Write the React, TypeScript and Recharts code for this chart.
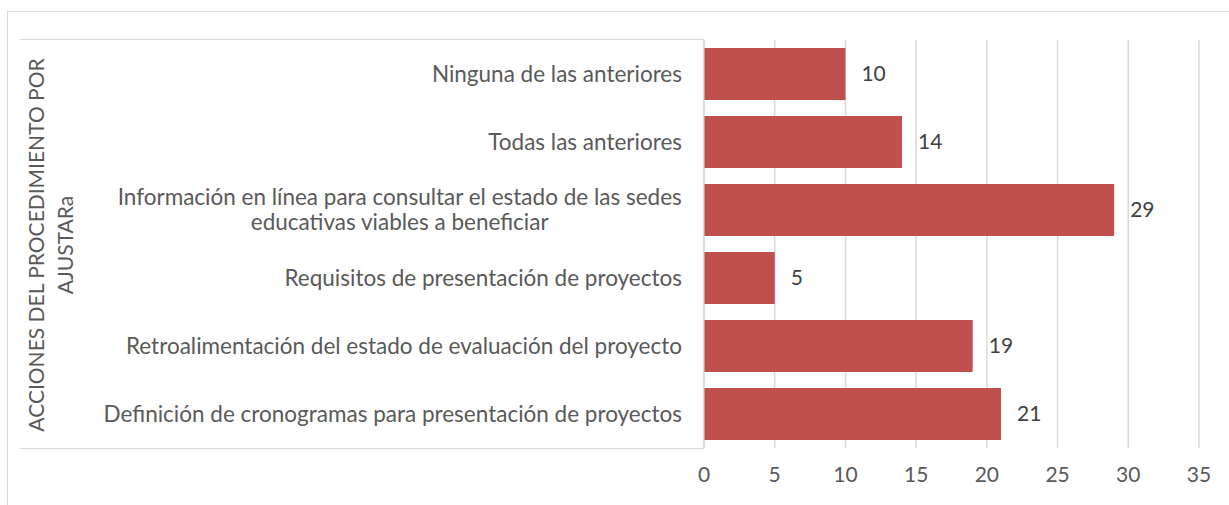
import React from 'react';
import { BarChart, Bar, XAxis, YAxis, CartesianGrid, LabelList } from 'recharts';

const categories = [
  'Ninguna de las anteriores',
  'Todas las anteriores',
  'Información en línea para consultar el estado de las sedes educativas viables a beneficiar',
  'Requisitos de presentación de proyectos',
  'Retroalimentación del estado de evaluación del proyecto',
  'Definición de cronogramas para presentación de proyectos',
];
const values = [10, 14, 29, 5, 19, 21];
const xTicks = [0, 5, 10, 15, 20, 25, 30, 35];
const axisTitle = ['ACCIONES DEL PROCEDIMIENTO POR', 'AJUSTARa'];

const FONT = 'Lato, "Open Sans", sans-serif';
const TEXT = '#595959';
const GRID = '#d9d9d9';
const BAR = '#C0504D';

const data = categories.map((name, i) => ({ name, value: values[i] }));

let ctx: CanvasRenderingContext2D | null = null;
const measure = (s: string, size: number) => {
  if (!ctx) ctx = document.createElement('canvas').getContext('2d');
  if (!ctx) return s.length * size * 0.46;
  ctx.font = `${size}px Lato`;
  return ctx.measureText(s).width;
};

// parte la etiqueta en varias líneas si no cabe
const wrap = (s: string, maxW: number, size: number) => {
  const words = s.split(' ');
  const lines: string[] = [];
  let cur = '';
  words.forEach(w => {
    const next = cur ? cur + ' ' + w : w;
    if (measure(next, size) > maxW && cur) {
      lines.push(cur);
      cur = w;
    } else cur = next;
  });
  if (cur) lines.push(cur);
  return lines;
};

const CategoryTick = (props: any) => {
  const { x, y, payload } = props;
  const size = 22.5;
  const lines = wrap(payload.value, 610, size);
  const widest = Math.max(...lines.map(l => measure(l, size)));
  const cx = x - 14 - widest / 2;
  const lh = 25;
  const y0 = y - ((lines.length - 1) * lh) / 2;
  return (
    <g>
      {lines.map((l, i) => (
        <text key={i} x={cx} y={y0 + i * lh} dy="0.35em" textAnchor="middle"
          fill={TEXT} fontSize={size} fontFamily={FONT}>{l}</text>
      ))}
    </g>
  );
};

const AxisTitle = () => (
  <g transform="translate(37, 245) rotate(-90)">
    {axisTitle.map((t, i) => (
      <text key={i} x={0} y={i * 29} dy="0.35em" textAnchor="middle"
        fill={TEXT} fontSize={21} fontFamily={FONT}>{t}</text>
    ))}
  </g>
);

export default function App() {
  return (
    <div style={{ position: 'absolute', left: 0, top: 0, width: 1229, height: 505, background: '#fff', overflow: 'hidden' }}>
      <div style={{ position: 'absolute', left: 7, top: 11, width: 1240, height: 520, border: `1px solid ${GRID}` }} />
      <div style={{ position: 'absolute', left: 20, top: 39, width: 684, height: 408, borderTop: `1px solid ${GRID}`, borderBottom: `1px solid ${GRID}` }} />
      <div style={{ position: 'absolute', left: 0, top: 0 }}>
        <BarChart width={1229} height={505} data={data} layout="vertical"
          margin={{ top: 40, right: 30, bottom: 27, left: 20 }} barSize={52}>
          <CartesianGrid horizontal={false} stroke={GRID} strokeWidth={1.5} />
          <XAxis type="number" domain={[0, 35]} ticks={xTicks} axisLine={false} tickLine={false}
            height={30} tickMargin={13} interval={0}
            tick={{ fill: TEXT, fontSize: 21, fontFamily: FONT }} />
          <YAxis type="category" dataKey="name" width={684} axisLine={{ stroke: GRID }} tickLine={false}
            tick={<CategoryTick />} interval={0}
            label={{ content: () => <AxisTitle /> }} />
          <Bar dataKey="value" fill={BAR} isAnimationActive={false}>
            <LabelList dataKey="value" position="right" offset={16} fill="#404040" fontSize={21} fontFamily={FONT} />
          </Bar>
        </BarChart>
      </div>
    </div>
  );
}
